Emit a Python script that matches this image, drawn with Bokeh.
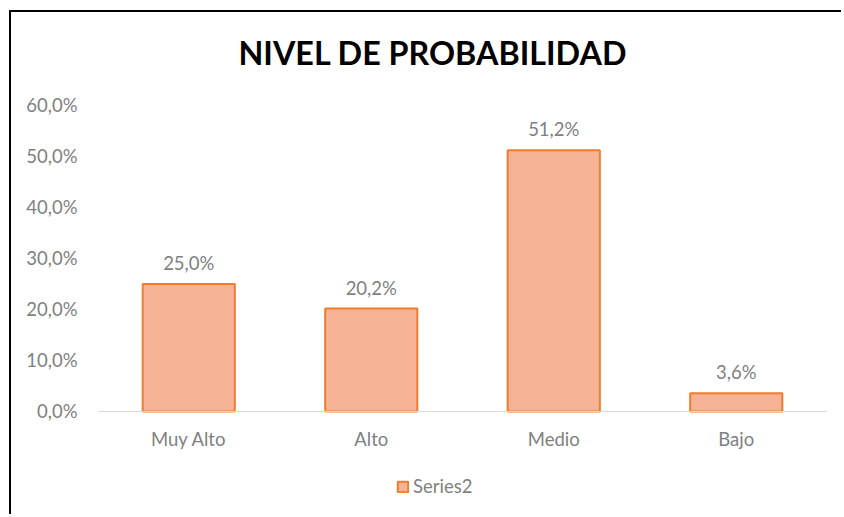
from bokeh.plotting import figure
from bokeh.layouts import column, row
from bokeh.models import (FactorRange, Range1d, Legend, LegendItem, Label,
                          FixedTicker, ColumnDataSource, Spacer, Span)
from bokeh.core.properties import value
from bokeh.embed import file_html
from bokeh.resources import INLINE

# ---- data ----
categories = ["Muy Alto", "Alto", "Medio", "Bajo"]
values = [25.0, 20.2, 51.2, 3.6]
value_labels = ["25,0%", "20,2%", "51,2%", "3,6%"]
y_ticks = [0, 10, 20, 30, 40, 50, 60]
y_tick_labels = ["0,0%", "10,0%", "20,0%", "30,0%", "40,0%", "50,0%", "60,0%"]
title_text = "NIVEL DE PROBABILIDAD"
series_name = "Series2"

FONT = "Lato"
GRAY = "#808080"
BAR_FILL = "#F5B294"
BAR_LINE = "#ED7D31"
FS = "18.5px"

# the frame reaches above the plot area (title) and below it (category
# labels, legend); the value axis still runs 0 .. 60
p = figure(
    width=832, height=504,
    x_range=FactorRange(*categories, range_padding=0),
    y_range=Range1d(-18.43, 74.7),
    output_backend="svg", toolbar_location=None,
    min_border_left=86, min_border_right=16,
    min_border_top=18, min_border_bottom=11,
    styles={"border-left": "2px solid #000000", "border-top": "2px solid #000000"},
)
p.outline_line_color = None
p.xgrid.grid_line_color = None
p.ygrid.grid_line_color = None
p.xaxis.visible = False

src = ColumnDataSource(dict(cat=categories, val=values,
                            lab=value_labels,
                            laby=[v + 4.1 for v in values],
                            caty=[-5.3] * len(categories)))
bars = p.vbar(x="cat", top="val", width=0.505, source=src,
              fill_color=BAR_FILL, line_color=BAR_LINE, line_width=2)

# base line of the plot area
p.add_layout(Span(location=0, dimension="width",
                  line_color="#D9D9D9", line_width=1))

# value labels
p.text(x="cat", y="laby", text="lab", source=src,
       text_font=value(FONT), text_font_size=FS, text_color=GRAY,
       text_align="center", text_baseline="middle")
# category labels
p.text(x="cat", y="caty", text="cat", source=src,
       text_font=value(FONT), text_font_size=FS, text_color=GRAY,
       text_align="center", text_baseline="middle")

# value axis
p.yaxis.ticker = FixedTicker(ticks=y_ticks)
p.yaxis.major_label_overrides = {t: l for t, l in zip(y_ticks, y_tick_labels)}
p.yaxis.axis_line_color = None
p.yaxis.major_tick_line_color = None
p.yaxis.major_tick_out = 0
p.yaxis.major_tick_in = 0
p.yaxis.minor_tick_line_color = None
p.yaxis.major_label_standoff = 20
p.yaxis.major_label_text_font = FONT
p.yaxis.major_label_text_font_size = FS
p.yaxis.major_label_text_color = GRAY

# title
p.add_layout(Label(x=1.838, y=70.4, text=title_text, text_align="center",
                   text_baseline="middle", text_font=FONT,
                   text_font_size="32.3px", text_font_style="bold",
                   text_color="#000000"))

# legend
legend = Legend(items=[LegendItem(label=series_name, renderers=[bars])],
                location=(299, 8), orientation="horizontal",
                glyph_width=13, glyph_height=13, label_standoff=4,
                padding=0, margin=0, border_line_color=None,
                background_fill_alpha=0,
                label_text_font=FONT, label_text_font_size=FS,
                label_text_color=GRAY)
p.add_layout(legend)

layout = column(Spacer(height=10), row(Spacer(width=9), p))
open("out.html", "w").write(file_html(layout, INLINE))
